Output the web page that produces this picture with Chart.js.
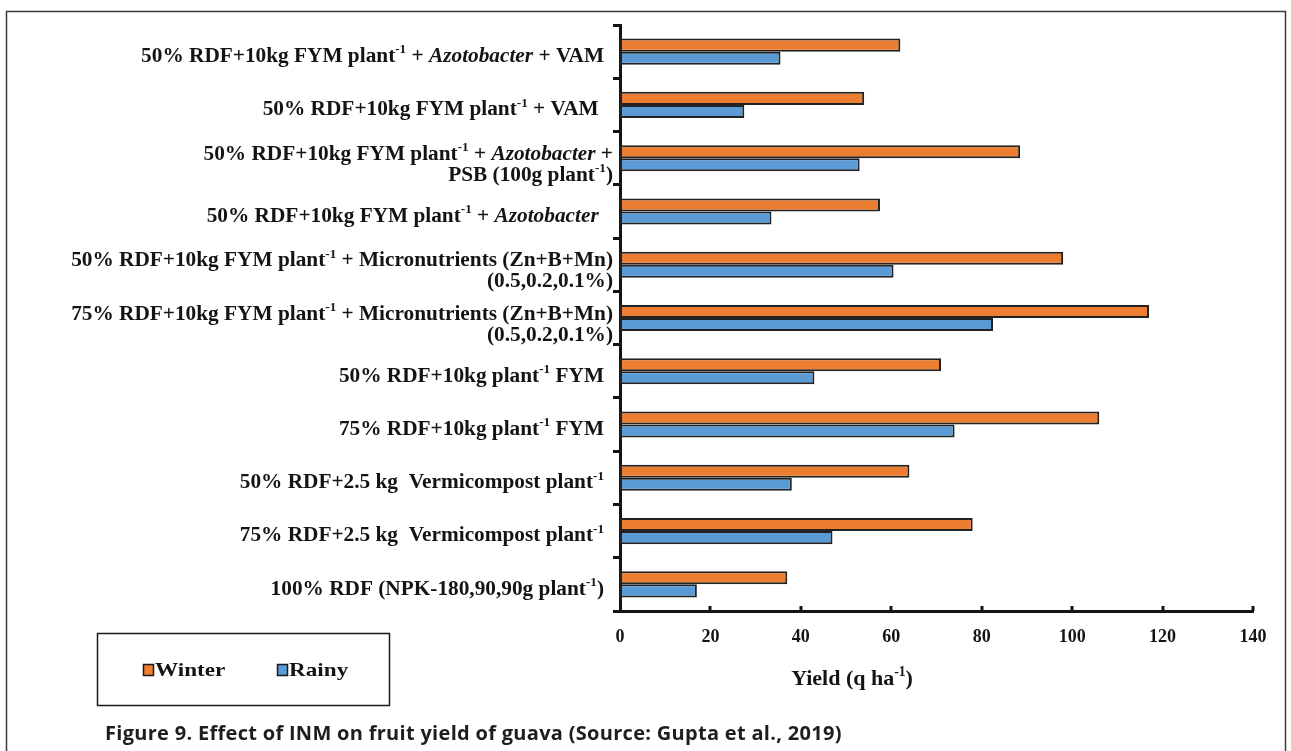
<!DOCTYPE html>
<html>
<head>
<meta charset="utf-8">
<title>Effect of INM on fruit yield of guava</title>
<script src="https://cdn.jsdelivr.net/npm/chart.js@4.4.1/dist/chart.umd.min.js"></script>
<style>
  html, body { margin: 0; padding: 0; background: #ffffff; }
  canvas { display: block; }
</style>
</head>
<body>
<canvas id="yieldChart" width="1291" height="751"></canvas>
<script>
// Treatments, listed top to bottom. ^{..} marks a superscript, *..* marks italic text;
// each inner array holds the wrapped lines of one label.
const categories = [
  ['50% RDF+10kg FYM plant^{-1} + *Azotobacter* + VAM'],
  ['50% RDF+10kg FYM plant^{-1} + VAM '],
  ['50% RDF+10kg FYM plant^{-1} + *Azotobacter* +', 'PSB (100g plant^{-1})'],
  ['50% RDF+10kg FYM plant^{-1} + *Azotobacter* '],
  ['50% RDF+10kg FYM plant^{-1} + Micronutrients (Zn+B+Mn)', '(0.5,0.2,0.1%)'],
  ['75% RDF+10kg FYM plant^{-1} + Micronutrients (Zn+B+Mn)', '(0.5,0.2,0.1%)'],
  ['50% RDF+10kg plant^{-1} FYM'],
  ['75% RDF+10kg plant^{-1} FYM'],
  ['50% RDF+2.5 kg  Vermicompost plant^{-1}'],
  ['75% RDF+2.5 kg  Vermicompost plant^{-1}'],
  ['100% RDF (NPK-180,90,90g plant^{-1})']
];

const seriesNames = ['Winter', 'Rainy'];
const winterYield = [62, 54, 88.5, 57.5, 98, 117, 71, 106, 64, 78, 37];
const rainyYield  = [35.5, 27.5, 53, 33.5, 60.5, 82.5, 43, 74, 38, 47, 17];

const xTickValues = [0, 20, 40, 60, 80, 100, 120, 140];
const xAxisTitle = 'Yield (q ha^{-1})';
const figureCaption = 'Figure 9. Effect of INM on fruit yield of guava (Source: Gupta et al., 2019)';

const SERIF = '"Liberation Serif", "Times New Roman", serif';
const INK = '#141414';

// ---- small rich-text helper: superscripts and italics on a canvas ----
function parseRich(str) {
  const segs = [];
  const re = /\^\{([^}]*)\}|\*([^*]*)\*|([^^*]+)/g;
  let m;
  while ((m = re.exec(str))) {
    if (m[1] !== undefined) segs.push({ t: m[1], sup: true });
    else if (m[2] !== undefined) segs.push({ t: m[2], it: true });
    else segs.push({ t: m[3] });
  }
  return segs;
}
function drawRich(ctx, str, x, y, align, size, weight, family) {
  const segs = parseRich(str);
  const fontFor = s => `${s.it ? 'italic ' : ''}${weight} ${s.sup ? (size * 0.62).toFixed(1) : size}px ${family}`;
  let total = 0;
  segs.forEach(s => { ctx.font = fontFor(s); s.w = ctx.measureText(s.t).width; total += s.w; });
  let cx = align === 'right' ? x - total : align === 'center' ? x - total / 2 : x;
  ctx.textAlign = 'left';
  ctx.textBaseline = 'alphabetic';
  segs.forEach(s => {
    ctx.font = fontFor(s);
    ctx.fillText(s.t, cx, y - (s.sup ? size * 0.4 : 0));
    cx += s.w;
  });
}

// Category labels beside the y axis
const categoryLabels = {
  id: 'categoryLabels',
  afterDraw(chart) {
    const { ctx } = chart;
    const y = chart.scales.y;
    const size = 21.3, lineGap = 21;
    ctx.save();
    ctx.fillStyle = INK;
    categories.forEach((lines, i) => {
      const yc = y.getPixelForValue(i);
      if (lines.length === 1) {
        drawRich(ctx, lines[0], 604, yc + 3 + size * 0.34, 'right', size, 'bold', SERIF);
      } else {
        lines.forEach((ln, k) => {
          const ly = yc + 5 + (k - (lines.length - 1) / 2) * lineGap;
          drawRich(ctx, ln, 613, ly + size * 0.34, 'right', size, 'bold', SERIF);
        });
      }
    });
    ctx.restore();
  }
};

// Short tick marks pointing up from the x axis
const innerXTicks = {
  id: 'innerXTicks',
  afterDraw(chart) {
    const { ctx } = chart;
    const x = chart.scales.x;
    const base = chart.chartArea.bottom;
    ctx.save();
    ctx.strokeStyle = INK;
    ctx.lineWidth = 3;
    x.ticks.forEach(t => {
      if (t.value === 0) return;
      const px = Math.round(x.getPixelForValue(t.value));
      ctx.beginPath();
      ctx.moveTo(px, base);
      ctx.lineTo(px, base - 5);
      ctx.stroke();
    });
    ctx.restore();
  }
};

// Axis title, boxed legend, caption and outer frame
const decorations = {
  id: 'decorations',
  afterDraw(chart) {
    const { ctx, chartArea } = chart;
    ctx.save();

    // outer frame
    ctx.strokeStyle = '#3a3a3a';
    ctx.lineWidth = 1.5;
    ctx.strokeRect(6.5, 11.5, 1279, 800);

    // x axis title
    ctx.fillStyle = INK;
    drawRich(ctx, xAxisTitle, chartArea.left + 232, 685, 'center', 22, 'bold', SERIF);

    // legend box
    ctx.strokeStyle = '#1a1a1a';
    ctx.lineWidth = 1.5;
    ctx.strokeRect(97.5, 633.5, 292, 72);
    const items = [{ x: 143 }, { x: 277 }];
    chart.data.datasets.forEach((ds, i) => {
      const ix = items[i].x;
      ctx.fillStyle = ds.backgroundColor;
      ctx.fillRect(ix, 664, 10, 11);
      ctx.strokeStyle = '#1a1a1a';
      ctx.lineWidth = 1.5;
      ctx.strokeRect(ix + 0.5, 664.5, 10, 11);
      ctx.save();
      ctx.translate(ix + 12, 676);
      ctx.scale(1.22, 1);
      ctx.fillStyle = INK;
      ctx.font = `bold 19px ${SERIF}`;
      ctx.textAlign = 'left';
      ctx.textBaseline = 'alphabetic';
      ctx.fillText(ds.label, 0, 0);
      ctx.restore();
    });

    // caption
    ctx.fillStyle = '#1e1e1e';
    ctx.font = '700 20px "Open Sans", "Noto Sans", sans-serif';
    ctx.letterSpacing = '0.3px';
    ctx.textAlign = 'left';
    ctx.textBaseline = 'alphabetic';
    ctx.fillText(figureCaption, 105, 740);

    ctx.restore();
  }
};

const plainLabels = categories.map(lines => lines.map(l => l.replace(/\^\{([^}]*)\}/g, '$1').replace(/\*/g, '').trim()).join(' '));

new Chart(document.getElementById('yieldChart'), {
  type: 'bar',
  data: {
    labels: plainLabels,
    datasets: [
      {
        label: seriesNames[0],
        data: winterYield,
        backgroundColor: '#ED7D31',
        borderColor: '#222222',
        borderWidth: 2,
        borderSkipped: false,
        categoryPercentage: 0.49,
        barPercentage: 1.0
      },
      {
        label: seriesNames[1],
        data: rainyYield,
        backgroundColor: '#5B9BD5',
        borderColor: '#222222',
        borderWidth: 2,
        borderSkipped: false,
        categoryPercentage: 0.49,
        barPercentage: 1.0
      }
    ]
  },
  options: {
    indexAxis: 'y',
    responsive: false,
    animation: false,
    devicePixelRatio: 1,
    layout: { padding: { top: 25, right: 38, left: 0, bottom: 0 } },
    plugins: {
      legend: { display: false },
      tooltip: { enabled: false },
      title: { display: false }
    },
    scales: {
      x: {
        type: 'linear',
        min: 0,
        max: 140,
        afterBuildTicks: s => { s.ticks = xTickValues.map(v => ({ value: v })); },
        afterFit: s => { s.height = 140; },
        grid: { display: false, drawTicks: false },
        border: { display: true, width: 3, color: INK },
        ticks: {
          color: INK,
          padding: 16,
          font: { family: SERIF, weight: 'bold', size: 18 }
        }
      },
      y: {
        type: 'category',
        afterFit: s => { s.width = 620; },
        grid: {
          display: true,
          offset: true,
          drawOnChartArea: false,
          drawTicks: true,
          tickLength: 7,
          lineWidth: 3,
          color: INK
        },
        border: { display: true, width: 3, color: INK },
        ticks: { display: false }
      }
    }
  },
  plugins: [categoryLabels, innerXTicks, decorations]
});
</script>
</body>
</html>
